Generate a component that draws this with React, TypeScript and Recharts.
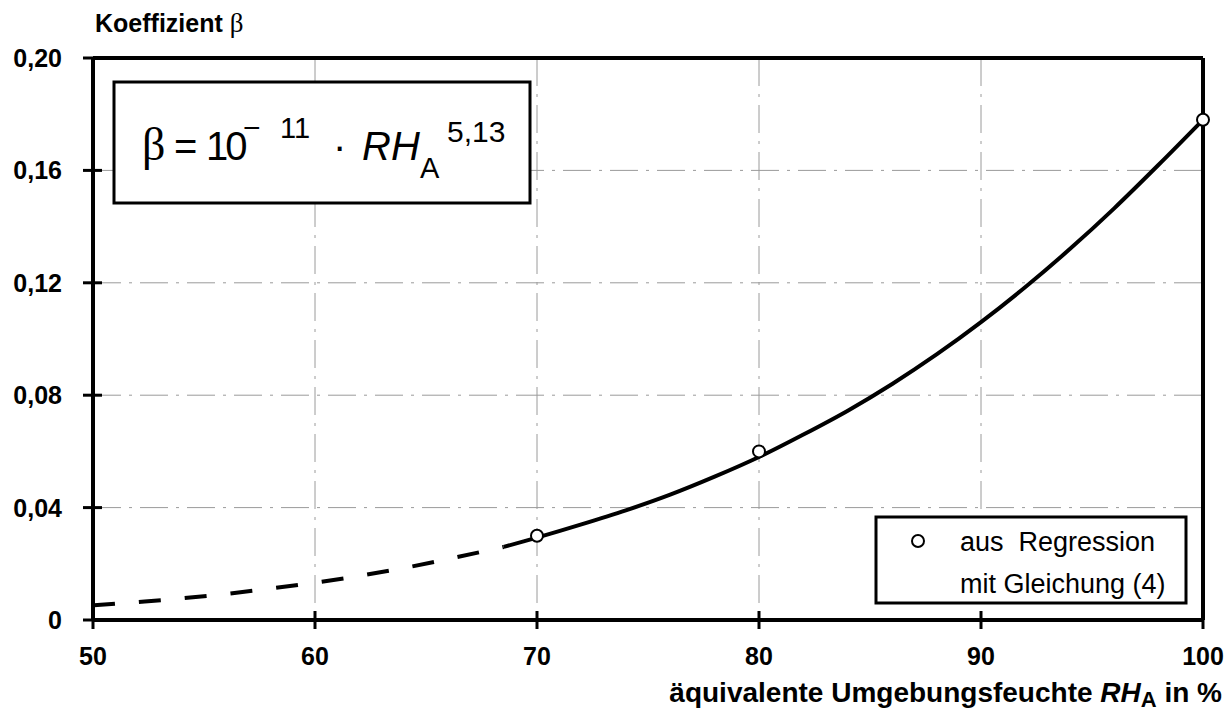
import React from 'react'
import { ComposedChart, Line, Scatter, XAxis, YAxis, CartesianGrid, ReferenceLine } from 'recharts'

// curve: dashed part (extrapolated) and solid part
const dashedRh = [50, 52, 54, 56, 58, 60, 62, 64, 66, 68.5]
const dashedBeta = [0.0052, 0.0064, 0.0077, 0.0093, 0.0112, 0.0133, 0.0157, 0.0185, 0.0217, 0.026]
const solidRh = [68.5, 70, 72, 74, 76, 78, 80, 82, 84, 86, 88, 90, 92, 94, 96, 98, 100]
const solidBeta = [0.026, 0.0293, 0.034, 0.039, 0.0446, 0.051, 0.058, 0.066, 0.0745, 0.084, 0.0945, 0.106, 0.1185, 0.132, 0.1465, 0.162, 0.178]

// regression points (open circles)
const pointRh = [70, 80, 100]
const pointBeta = [0.03, 0.06, 0.178]

const xTicks = [50, 60, 70, 80, 90, 100]
const yTicks = [0, 0.04, 0.08, 0.12, 0.16, 0.2]
const yTickLabels = ['0', '0,04', '0,08', '0,12', '0,16', '0,20']

const curveData = [
  ...dashedRh.map((rh, i) => ({ rh, dashed: dashedBeta[i] })),
  ...solidRh.map((rh, i) => ({ rh, solid: solidBeta[i] })),
]
const pointData = pointRh.map((rh, i) => ({ rh, beta: pointBeta[i] }))

const W = 1229
const H = 718
const FONT = '"Liberation Sans", Arial, sans-serif'
const SERIF = '"Liberation Serif", serif'

const YTick = (props: any) => {
  const { x, y, payload } = props
  const idx = yTicks.indexOf(payload.value)
  return (
    <g>
      <line x1={x - 10} x2={x + 9} y1={y} y2={y} stroke="#000" strokeWidth={3} />
      <text x={x - 31} y={y + 9} textAnchor="end" fontFamily={FONT} fontWeight="bold" fontSize={25} fill="#000">
        {yTickLabels[idx]}
      </text>
    </g>
  )
}

const XTick = (props: any) => {
  const { x, y, payload } = props
  return (
    <g>
      <line x1={x} x2={x} y1={y - 9} y2={y + 9} stroke="#000" strokeWidth={3} />
      <text x={x} y={y + 45} textAnchor="middle" fontFamily={FONT} fontWeight="bold" fontSize={25} fill="#000">
        {payload.value}
      </text>
    </g>
  )
}

const OpenCircle = (props: any) => {
  const { cx, cy } = props
  return <circle cx={cx} cy={cy} r={6} fill="#fff" stroke="#000" strokeWidth={2} />
}

export default function App() {
  return (
    <div style={{ position: 'absolute', left: 0, top: 0, width: W, height: H, background: '#fff', fontFamily: FONT }}>
      <ComposedChart width={W} height={H} data={curveData} margin={{ top: 58, right: 26, bottom: 68, left: 33 }}>
        <CartesianGrid stroke="#9a9a9a" strokeWidth={1} strokeDasharray="28 8 3 8" />
        <XAxis
          dataKey="rh"
          type="number"
          domain={[50, 100]}
          ticks={xTicks}
          height={30}
          tickSize={0}
          tickMargin={0}
          tickLine={false}
          axisLine={{ stroke: '#000', strokeWidth: 4 }}
          tick={<XTick />}
          interval={0}
        />
        <YAxis
          type="number"
          domain={[0, 0.2]}
          ticks={yTicks}
          width={60}
          tickSize={0}
          tickMargin={0}
          tickLine={false}
          axisLine={{ stroke: '#000', strokeWidth: 4 }}
          tick={<YTick />}
          interval={0}
        />
        <ReferenceLine y={0.2} stroke="#000" strokeWidth={4} />
        <ReferenceLine x={100} stroke="#000" strokeWidth={4} />
        <Line
          type="monotone"
          dataKey="dashed"
          stroke="#000"
          strokeWidth={4}
          strokeDasharray="22 24"
          dot={false}
          activeDot={false}
          connectNulls={false}
          isAnimationActive={false}
        />
        <Line
          type="monotone"
          dataKey="solid"
          stroke="#000"
          strokeWidth={4}
          dot={false}
          activeDot={false}
          connectNulls={false}
          isAnimationActive={false}
        />
        <Scatter data={pointData} dataKey="beta" shape={<OpenCircle />} isAnimationActive={false} />
      </ComposedChart>

      {/* annotations: axis titles, formula box, legend box */}
      <svg width={W} height={H} style={{ position: 'absolute', left: 0, top: 0, pointerEvents: 'none' }} fontFamily={FONT}>
        <text x={95} y={32} fontSize={25} fontWeight="bold" fill="#000">
          Koeffizient <tspan fontFamily={SERIF} fontWeight="normal" fontSize={27}>β</tspan>
        </text>

        <rect x={114} y={82} width={416} height={121} fill="#fff" stroke="#000" strokeWidth={3} />
        <text x={142} y={160} fontFamily={SERIF} fontSize={46} fill="#000">β</text>
        <text x={174} y={160} fontSize={40} fill="#000">=</text>
        <text x={206} y={160} fontSize={40} fill="#000" letterSpacing={-3}>10</text>
        <text x={243} y={138} fontSize={30} fill="#000">−</text>
        <text x={280} y={138} fontSize={29} fill="#000">11</text>
        <text x={333} y={160} fontSize={40} fill="#000">·</text>
        <text x={362} y={160} fontSize={40} fontStyle="italic" fill="#000">RH</text>
        <text x={420} y={178} fontSize={29} fill="#000">A</text>
        <text x={447} y={142} fontSize={30} fill="#000">5,13</text>

        <rect x={876} y={517} width={310} height={86} fill="#fff" stroke="#000" strokeWidth={3} />
        <circle cx={918} cy={541} r={6} fill="#fff" stroke="#000" strokeWidth={2} />
        <text x={960} y={551} fontSize={27} fill="#000" style={{ whiteSpace: 'pre' }}>aus  Regression</text>
        <text x={960} y={593} fontSize={27} fill="#000">mit Gleichung (4)</text>

        <text x={1222} y={702} textAnchor="end" fontSize={28} fontWeight="bold" fill="#000">
          äquivalente Umgebungsfeuchte <tspan fontStyle="italic">RH</tspan>
          <tspan fontSize={22} dy={5}>A</tspan>
          <tspan dy={-5}> in %</tspan>
        </text>
      </svg>
    </div>
  )
}
